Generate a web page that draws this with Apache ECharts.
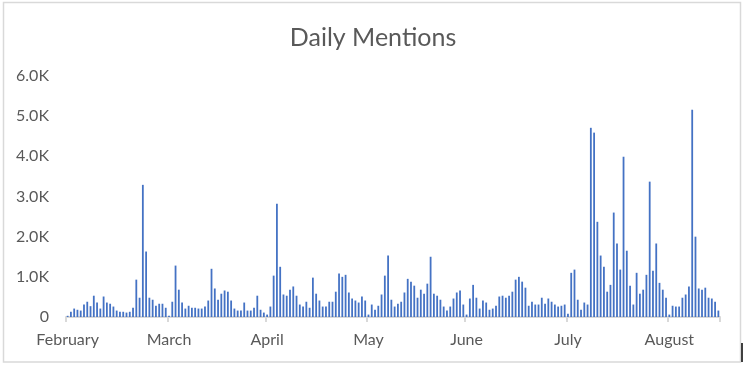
<!DOCTYPE html>
<html>
<head>
<meta charset="utf-8">
<script src="https://cdn.jsdelivr.net/npm/echarts@6/dist/echarts.min.js"></script>
<style>html,body{margin:0;padding:0;background:#fff}#c{width:746px;height:366px}</style>
</head>
<body>
<div id="c"></div>
<script>
// Month labels and the category index where each month starts
const monthNames = ['February','March','April','May','June','July','August'];
const monthStarts = [0, 31, 61, 92, 122, 153, 184];
const monthLengths = [31, 30, 31, 30, 31, 31, 16];

// Daily mention counts
const mentionsFeb = [30,130,210,180,160,310,380,270,530,360,210,510,360,330,260,160,130,130,110,130,230,930,480,3290,1630,480,430,280,330,330,230];
const mentionsMar = [30,380,1280,680,360,210,280,230,230,210,210,260,410,1200,710,430,580,660,630,410,210,160,160,360,160,160,230,530,180,110];
const mentionsApr = [60,260,1030,2820,1250,560,530,680,760,530,310,260,380,230,980,580,410,260,260,380,380,630,1080,1000,1050,610,460,410,360,510,410];
const mentionsMay = [60,310,180,280,560,1030,1530,430,260,330,380,610,950,880,780,480,680,580,830,1500,580,530,430,260,160,260,460,610,660,310];
const mentionsJun = [60,460,800,480,210,410,360,180,210,280,510,530,480,530,630,930,1000,880,730,280,380,310,310,480,330,460,380,310,260,280,310];
const mentionsJul = [80,1100,1180,430,180,360,310,4710,4590,2370,1530,1250,630,800,2600,1830,1180,3990,1650,780,310,1100,580,680,1050,3370,1150,1830,850,680,480];
const mentionsAug = [60,280,260,260,480,560,760,5160,2000,710,680,730,480,460,380,160];

const yTicks = [0, 1000, 2000, 3000, 4000, 5000, 6000];

const values = [].concat(mentionsFeb, mentionsMar, mentionsApr, mentionsMay, mentionsJun, mentionsJul, mentionsAug);
const categories = [];
monthNames.forEach((m, mi) => {
  for (let d = 1; d <= monthLengths[mi]; d++) categories.push(m + ' ' + d);
});

const isMonthStart = (idx) => monthStarts.indexOf(idx) >= 0;
const txt = '#595959';
const chart = echarts.init(document.getElementById('c'), null, {renderer: 'canvas'});
chart.setOption({
  animation: false,
  backgroundColor: '#ffffff',
  title: {
    text: 'Daily Mentions',
    left: 'center',
    top: 20,
    textStyle: {fontFamily: 'Lato', fontSize: 25, fontWeight: 'normal', color: txt}
  },
  grid: {left: 66, right: 26, top: 76, bottom: 49, containLabel: false},
  xAxis: {
    type: 'category',
    data: categories,
    boundaryGap: true,
    axisLine: {show: true, lineStyle: {color: '#d9d9d9', width: 2}},
    axisTick: {show: true, interval: (i) => isMonthStart(i), length: 5, lineStyle: {color: '#d9d9d9', width: 2}},
    axisLabel: {
      interval: (i) => isMonthStart(i),
      formatter: (v) => v.split(' ')[0],
      fontFamily: 'Lato', fontSize: 16, color: txt, margin: 15
    },
    splitLine: {show: false}
  },
  yAxis: {
    type: 'value',
    min: yTicks[0],
    max: yTicks[yTicks.length - 1],
    interval: 1000,
    axisLine: {show: false},
    axisTick: {show: false},
    splitLine: {show: false},
    axisLabel: {
      fontFamily: 'Lato', fontSize: 16, color: txt, margin: 17,
      formatter: (v) => v === 0 ? '0' : (v / 1000).toFixed(1) + 'K'
    }
  },
  series: [{
    type: 'bar',
    data: values,
    barCategoryGap: '45%',
    itemStyle: {color: '#4472C4'}
  }],
  graphic: [
    {type: 'rect', shape: {x: 3.5, y: 2.5, width: 737, height: 359.5}, style: {fill: 'none', stroke: '#d9d9d9', lineWidth: 1.5}, silent: true},
    {type: 'line', shape: {x1: 742, y1: 343, x2: 742, y2: 362}, style: {stroke: '#000000', lineWidth: 1.5}, silent: true}
  ]
});
</script>
</body>
</html>
